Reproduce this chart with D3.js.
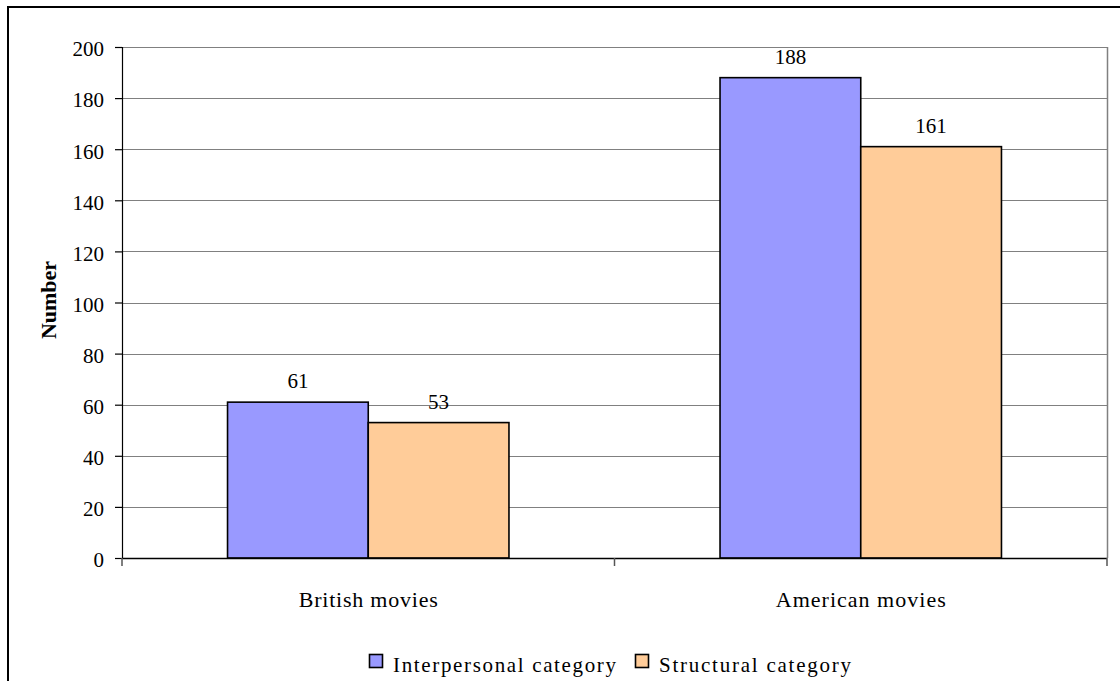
<!DOCTYPE html>
<html>
<head>
<meta charset="utf-8">
<script src="https://cdn.jsdelivr.net/npm/d3@7"></script>
<style>
  html, body { margin: 0; padding: 0; background: #fff; overflow: hidden; }
  svg text { font-family: "Liberation Serif", "Times New Roman", Times, serif; fill: #000; }
</style>
</head>
<body>
<svg id="chart" width="1120" height="681"></svg>
<script>
const categories = ["British movies", "American movies"];
const seriesNames = ["Interpersonal category", "Structural category"];
const interpersonal = [61, 188];
const structural = [53, 161];
const yTicks = [0, 20, 40, 60, 80, 100, 120, 140, 160, 180, 200];
const colors = ["#9999FF", "#FFCC99"];

const FONT = '"Liberation Serif", "Times New Roman", Times, serif';
const svg = d3.select("#chart");
const plot = { left: 122, right: 1107, top: 47, bottom: 558 };

// outer frame (extends past the window on right/bottom)
svg.append("rect")
  .attr("x", 8).attr("y", 7).attr("width", 1140).attr("height", 720)
  .attr("fill", "#fff").attr("stroke", "#000").attr("stroke-width", 2);

const y = d3.scaleLinear().domain([0, 200]).range([plot.bottom, plot.top]);
const x0 = d3.scaleBand().domain(categories).range([plot.left, plot.right])
  .paddingInner(1.5 / 3.5).paddingOuter(0.75 / 3.5);
const x1 = d3.scaleBand().domain(seriesNames).range([0, x0.bandwidth()]).padding(0);

// gridlines
svg.append("g").selectAll("line").data(yTicks.filter(d => d > 0)).join("line")
  .attr("x1", plot.left).attr("x2", plot.right)
  .attr("y1", d => Math.round(y(d)) + 0.5).attr("y2", d => Math.round(y(d)) + 0.5)
  .attr("stroke", "#808080").attr("stroke-width", 1);
// right border of plot area
svg.append("line")
  .attr("x1", plot.right + 0.5).attr("x2", plot.right + 0.5)
  .attr("y1", plot.top).attr("y2", plot.bottom)
  .attr("stroke", "#808080").attr("stroke-width", 1.5);

// y axis
const yAxis = d3.axisLeft(y).tickValues(yTicks).tickSize(7).tickPadding(11);
const gy = svg.append("g").attr("transform", `translate(${plot.left},0)`).call(yAxis)
  .attr("font-family", FONT);
gy.select(".domain").attr("stroke", "#000").attr("stroke-width", 1.2);
gy.selectAll(".tick line").attr("stroke", "#000").attr("stroke-width", 1.2);
gy.selectAll(".tick text")
  .style("font-family", FONT).style("font-size", "21px")
  .attr("dy", "0.42em").attr("fill", "#000");

// data
const data = categories.map((c, i) => ({ cat: c, vals: [
  { s: seriesNames[0], v: interpersonal[i], c: colors[0] },
  { s: seriesNames[1], v: structural[i], c: colors[1] }
]}));

const groups = svg.append("g").selectAll("g").data(data).join("g")
  .attr("transform", d => `translate(${x0(d.cat)},0)`);
groups.selectAll("rect").data(d => d.vals).join("rect")
  .attr("x", d => x1(d.s)).attr("y", d => y(d.v))
  .attr("width", x1.bandwidth()).attr("height", d => y(0) - y(d.v))
  .attr("fill", d => d.c).attr("stroke", "#000").attr("stroke-width", 1.6);
groups.selectAll("text").data(d => d.vals).join("text")
  .attr("x", d => x1(d.s) + x1.bandwidth() / 2).attr("y", d => y(d.v) - 14)
  .attr("text-anchor", "middle").style("font-family", FONT).style("font-size", "21px")
  .text(d => d.v);

// x axis
const gx = svg.append("g").attr("transform", `translate(0,${plot.bottom})`);
gx.append("line").attr("x1", plot.left).attr("x2", plot.right)
  .attr("y1", 0.5).attr("y2", 0.5).attr("stroke", "#000").attr("stroke-width", 1.5);
const xTickPos = [plot.left, (plot.left + plot.right) / 2, plot.right];
gx.selectAll("line.tk").data(xTickPos).join("line").attr("class", "tk")
  .attr("x1", d => d).attr("x2", d => d).attr("y1", 0).attr("y2", 8)
  .attr("stroke", "#555").attr("stroke-width", 1.5);
const catWidths = [139, 170];
gx.selectAll("text").data(categories).join("text")
  .attr("x", d => x0(d) + x0.bandwidth() / 2).attr("y", 49)
  .attr("text-anchor", "middle").style("font-family", FONT).style("font-size", "22px")
  .attr("textLength", (d, i) => catWidths[i]).attr("lengthAdjust", "spacing")
  .text(d => d);

// y title
svg.append("text")
  .attr("transform", "translate(56,300) rotate(-90)")
  .attr("text-anchor", "middle").style("font-family", FONT)
  .style("font-size", "22px").style("font-weight", "bold")
  .text("Number");

// legend
const legendX = [369, 635];
const legendW = [223, 192];
const lg = svg.append("g").selectAll("g").data(seriesNames).join("g")
  .attr("transform", (d, i) => `translate(${legendX[i]},654)`);
lg.append("rect").attr("x", 0.5).attr("y", 0.5).attr("width", 13).attr("height", 13)
  .attr("fill", (d, i) => colors[i]).attr("stroke", "#000").attr("stroke-width", 1.6);
lg.append("text").attr("x", 24).attr("y", 18)
  .style("font-family", FONT).style("font-size", "21px")
  .attr("textLength", (d, i) => legendW[i]).attr("lengthAdjust", "spacing")
  .text(d => d);
</script>
</body>
</html>
